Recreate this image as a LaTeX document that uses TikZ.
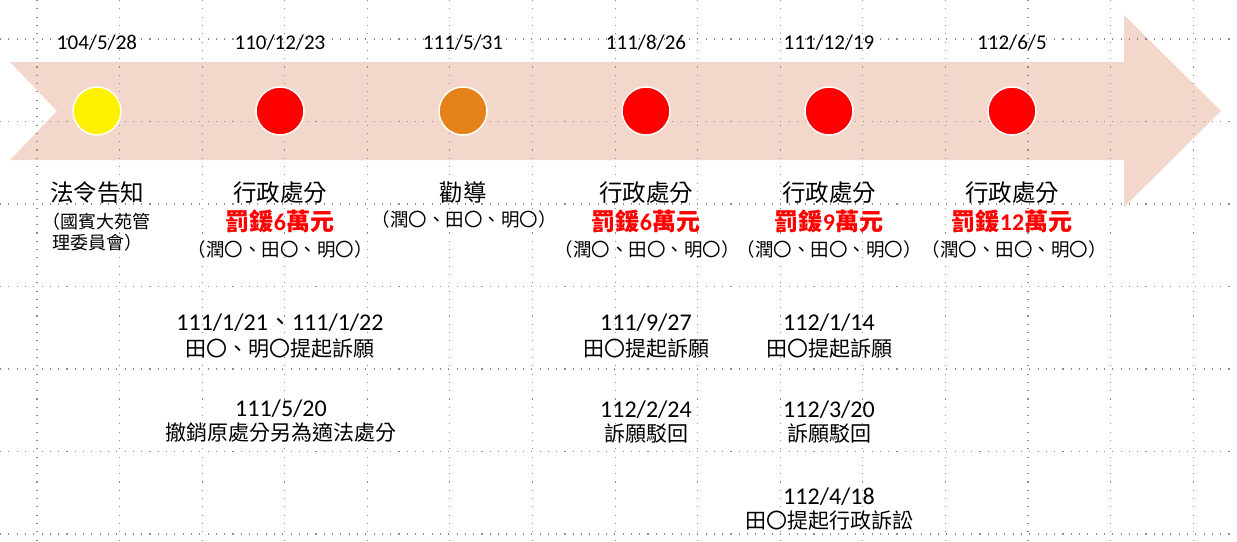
\documentclass[tikz,border=0pt]{standalone}
\usepackage{fontspec}
\setmainfont{Carlito}
\newfontfamily\cjk{Noto Sans CJK TC}
\definecolor{arrowfill}{HTML}{F4D7CB}
\definecolor{dotorange}{HTML}{E5821A}
\begin{document}
\begin{tikzpicture}[x=1pt,y=-1pt,
  gridline/.style={black!45,line width=1.1pt,dash pattern=on 1.1pt off 7.2pt},
  dot/.style={circle,draw=white,line width=1.5pt,minimum size=48pt,inner sep=0pt},
  date/.style={inner sep=0pt,font=\fontsize{21}{24}\selectfont},
  ttl/.style={inner sep=0pt,font=\cjk\fontsize{23.5}{28}\selectfont},
  fine/.style={inner sep=0pt,font=\cjk\fontsize{24}{28}\selectfont\bfseries,text=red},
  who/.style={inner sep=0pt,font=\cjk\fontsize{18.5}{22}\selectfont},
  org/.style={inner sep=0pt,font=\cjk\fontsize{18}{22}\selectfont},
  ldate/.style={inner sep=0pt,font=\fontsize{24}{28}\selectfont},
  ltxt/.style={inner sep=0pt,font=\cjk\fontsize{21}{24}\selectfont},
]
\fill[white] (0,0) rectangle (1237,541);
\useasboundingbox (0,0) rectangle (1237,541);
% arrow
\fill[arrowfill] (10,62) -- (1124,62) -- (1124,15) -- (1221,111) -- (1124,207) -- (1124,160) -- (10,160) -- (57,111) -- cycle;
% grid
\foreach \k in {0,...,14} \draw[gridline] ({37+82.58*\k},0) -- ({37+82.58*\k},541);
\foreach \k in {0,...,6} \draw[gridline] (0,{39+82.5*\k}) -- (1237,{39+82.5*\k});
% dots
\node[dot,fill=yellow] (d1) at (97,111) {};
\node[dot,fill=red] (d2) at (280,111) {};
\node[dot,fill=dotorange] (d3) at (463,111) {};
\node[dot,fill=red] (d4) at (646,111) {};
\node[dot,fill=red] (d5) at (829,111) {};
\node[dot,fill=red] (d6) at (1012,111) {};
% dates
\node[date] (t1) at (97,43) {104/5/28};
\node[date] (t2) at (280,43) {110/12/23};
\node[date] (t3) at (463,43) {111/5/31};
\node[date] (t4) at (646,43) {111/8/26};
\node[date] (t5) at (829,43) {111/12/19};
\node[date] (t6) at (1012,43) {112/6/5};
% column 1
\node[ttl] (h1) at (97,192.5) {法令告知};
\node[org] (w1a) at (96,221.5) {（國賓大苑管};
\node[org] (w1b) at (97,242.5) {理委員會）};
% column 2
\node[ttl] (h2) at (280,192.5) {行政處分};
\node[fine] (f2) at (280,221) {罰鍰{\rmfamily 6}萬元};
\node[who] (w2) at (280,249) {（潤〇、田〇、明〇）};
% column 3
\node[ttl] (h3) at (463,192.5) {勸導};
\node[who] (w3) at (464,219.5) {（潤〇、田〇、明〇）};
% column 4
\node[ttl] (h4) at (646,192.5) {行政處分};
\node[fine] (f4) at (646,221) {罰鍰{\rmfamily 6}萬元};
\node[who] (w4) at (647,249) {（潤〇、田〇、明〇）};
% column 5
\node[ttl] (h5) at (829,192.5) {行政處分};
\node[fine] (f5) at (829,221) {罰鍰{\rmfamily 9}萬元};
\node[who] (w5) at (829,249) {（潤〇、田〇、明〇）};
% column 6
\node[ttl] (h6) at (1012,192.5) {行政處分};
\node[fine] (f6) at (1012,221) {罰鍰{\rmfamily 12}萬元};
\node[who] (w6) at (1014,249) {（潤〇、田〇、明〇）};
% lower events column 2
\node[ldate] (e1) at (280,322.5) {111/1/21{\cjk 、}111/1/22};
\node[ltxt] (e1t) at (280,349) {田〇、明〇提起訴願};
\node[ldate] (e2) at (281,409) {111/5/20};
\node[ltxt] (e2t) at (281,433) {撤銷原處分另為適法處分};
% lower events column 4
\node[ldate] (e3) at (646,323) {111/9/27};
\node[ltxt] (e3t) at (646,348.5) {田〇提起訴願};
\node[ldate] (e4) at (646,409.5) {112/2/24};
\node[ltxt] (e4t) at (646,434) {訴願駁回};
% lower events column 5
\node[ldate] (e5) at (829,323) {112/1/14};
\node[ltxt] (e5t) at (829,348.5) {田〇提起訴願};
\node[ldate] (e6) at (829,409.5) {112/3/20};
\node[ltxt] (e6t) at (829,434) {訴願駁回};
\node[ldate] (e7) at (829,496.5) {112/4/18};
\node[ltxt] (e7t) at (829,521) {田〇提起行政訴訟};
\end{tikzpicture}
\end{document}
